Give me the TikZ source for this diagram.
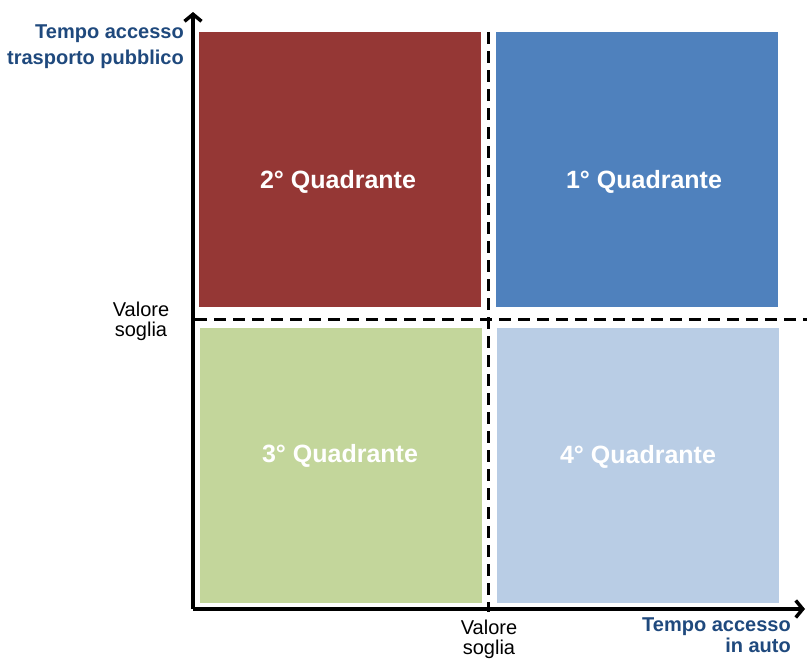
\documentclass[tikz,border=0pt]{standalone}
\usepackage{fontspec}
\setmainfont{Liberation Sans}
\usepackage{tikz}
\usetikzlibrary{positioning, arrows.meta}
\usepackage{xcolor}
\definecolor{quadRed}{RGB}{149, 55, 53}
\definecolor{quadBlue}{RGB}{79, 129, 189}
\definecolor{quadGreen}{RGB}{195, 214, 155}
\definecolor{quadLight}{RGB}{185, 205, 229}
\definecolor{axisText}{RGB}{31, 73, 125}

\begin{document}
\begin{tikzpicture}[x=1pt, y=-1pt,
    quadbox/.style={draw=none, minimum width=282pt, minimum height=275pt, inner sep=0pt},
    quadtext/.style={text=white, font=\fontsize{25}{30}\selectfont\bfseries},
    axislabel/.style={text=axisText, inner sep=0pt, align=right, anchor=north east},
    threshold/.style={inner sep=0pt, align=center, anchor=north, font=\fontsize{20}{20}\selectfont},
    axisline/.style={line width=3.5pt, -{Straight Barb[length=7pt, width=17pt]}},
    split/.style={line width=3pt, dash pattern=on 12pt off 7pt}]
  \useasboundingbox (0,0) rectangle (807,659);

  % quadranti
  \node[quadbox, fill=quadRed] (q2) at (340,169.5) {};
  \node[quadbox, fill=quadBlue] (q1) at (637,169.5) {};
  \node[quadbox, fill=quadGreen] (q3) at (340.5,465.5) {};
  \node[quadbox, fill=quadLight] (q4) at (637.5,465) {};

  \node[quadtext] (t2) at (338,182) {2° Quadrante};
  \node[quadtext] (t1) at (644,182) {1° Quadrante};
  \node[quadtext] (t3) at (340,456) {3° Quadrante};
  \node[quadtext] (t4) at (638,457) {4° Quadrante};

  % soglie
  \coordinate (vtop) at (488,32);
  \coordinate (vbot) at (488,612);
  \coordinate (hleft) at (195,319);
  \coordinate (hright) at (807,319);
  \draw[split] (vtop) -- (vbot);
  \draw[split] (hleft) -- (hright);

  % assi
  \coordinate (origin) at (193,609);
  \coordinate (ytip) at (193,12);
  \coordinate (xtip) at (805,609);
  \draw[axisline] (origin) -- (ytip);
  \draw[axisline] (origin) -- (xtip);

  \node[axislabel, font=\fontsize{20}{26}\selectfont\bfseries] (ylab) at (184,25)
    {Tempo accesso\\trasporto pubblico};
  \node[axislabel, font=\fontsize{20}{21}\selectfont\bfseries] (xlab) at (791,618)
    {Tempo accesso\\in auto};
  \node[threshold] (ysoglia) at (141,302) {Valore\\soglia};
  \node[threshold] (xsoglia) at (489,620) {Valore\\soglia};
\end{tikzpicture}
\end{document}
